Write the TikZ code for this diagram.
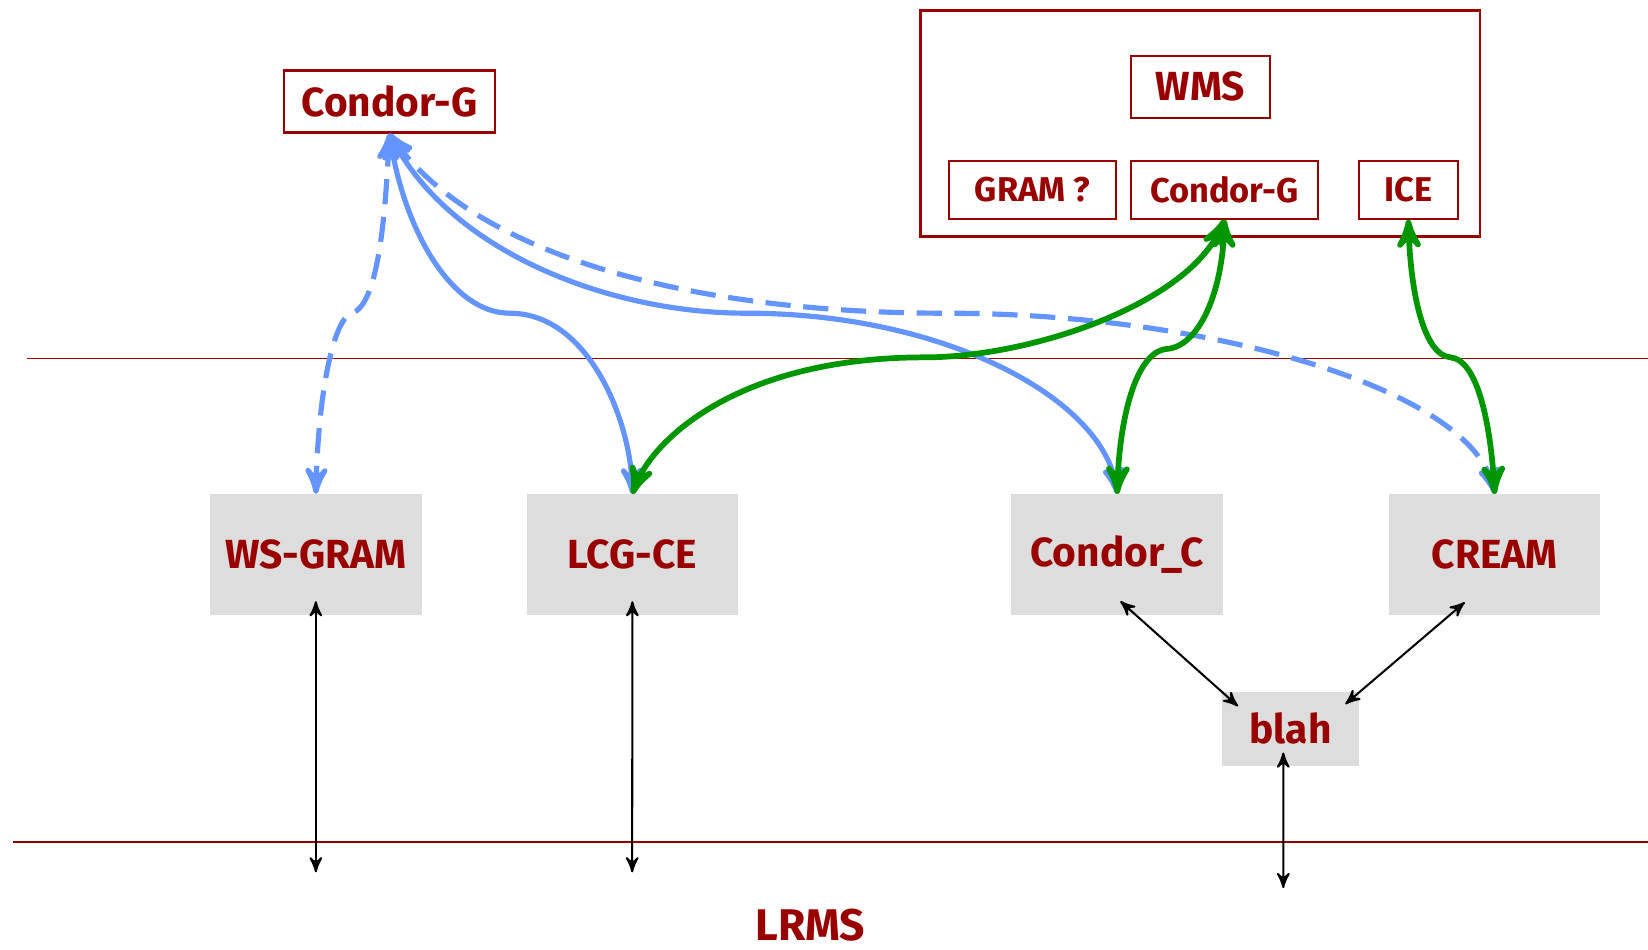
\documentclass[tikz,border=0pt]{standalone}
\usepackage{fontspec}
\setmainfont{Fira Sans}
\usetikzlibrary{arrows,positioning,shapes}
\definecolor{darkred}{RGB}{153,0,0}
\definecolor{lineblue}{RGB}{100,149,255}
\definecolor{linegreen}{RGB}{0,150,0}
\definecolor{boxgray}{RGB}{221,221,221}

\begin{document}
\begin{tikzpicture}[x=0.01cm,y=-0.01cm,>=stealth',
  lbl/.style={text=darkred,font=\bfseries\fontsize{11}{13}\selectfont},
  redbox/.style={lbl,draw=darkred,line width=0.6pt,inner sep=0pt,minimum height=0.59cm},
  smallbox/.style={redbox,font=\bfseries\fontsize{9.3}{11}\selectfont,minimum height=0.55cm},
  graybox/.style={lbl,fill=boxgray,inner sep=0pt,outer sep=0pt,minimum width=2.01cm,minimum height=1.15cm},
  sepline/.style={darkred,line width=0.45pt},
  blueline/.style={lineblue,line width=1.4pt,<->},
  greenline/.style={linegreen,line width=1.55pt,<->},
  blackline/.style={black,line width=0.55pt,<->},
  dashblue/.style={blueline,dash pattern=on 0.24cm off 0.12cm}]
\useasboundingbox (0,0) rectangle (1568,903);

% level lines
\draw[sepline] (26,341) -- (1568,341);
\draw[sepline] (12,801) -- (1568,801);

% clients
\node[redbox,minimum width=2.01cm] (condorg) at (370.5,96.5) {Condor-G};
\node[redbox,minimum width=5.32cm,minimum height=2.15cm] (wmsframe) at (1142,117.5) {};
\node[redbox,minimum width=1.32cm] (wms) at (1142,82.5) {WMS};
\node[smallbox,minimum width=1.59cm] (gram) at (982.5,180.5) {GRAM ?};
\node[smallbox,minimum width=1.78cm] (wmscg) at (1165,180.5) {Condor-G};
\node[smallbox,minimum width=0.94cm] (ice) at (1340,180.5) {ICE};

% computing elements
\node[graybox] (wsgram) at (300.5,527.5) {WS-GRAM};
\node[graybox,right=1cm of wsgram] (lcgce) {LCG-CE};
\node[graybox,right=2.6cm of lcgce] (condorc) {Condor\_C};
\node[graybox,right=1.58cm of condorc] (cream) {CREAM};
\node[graybox,minimum width=1.3cm,minimum height=0.71cm] (blah) at (1228,693.5) {blah};
\node[lbl,inner sep=0pt,font=\bfseries\fontsize{12}{14}\selectfont] (lrms) at (771,880) {LRMS};

\coordinate (wsend) at (300.5,830);
\coordinate (lcgend) at (601.5,830);
\coordinate (blahend) at (1221,845);

% Condor-G submissions
\draw[dashblue] (condorg.south) .. controls (366,220) and (358,290) .. (335,298)
  .. controls (318,302) and (303,370) .. (wsgram.north);
\draw[blueline] (condorg.south) .. controls (385,220) and (430,298) .. (485,298)
  .. controls (560,298) and (600,400) .. (lcgce.north);
\draw[blueline] (condorg.south) .. controls (430,240) and (580,298) .. (710,298)
  .. controls (900,298) and (1050,380) .. (condorc.north);
\draw[dashblue] (condorg.south) .. controls (450,240) and (650,298) .. (900,298)
  .. controls (1150,298) and (1400,370) .. (cream.north);

% WMS submissions
\draw[greenline] (wmscg.south) .. controls (1130,290) and (980,340) .. (880,340)
  .. controls (700,340) and (620,420) .. (lcgce.north);
\draw[greenline] (wmscg.south) .. controls (1163,280) and (1140,330) .. (1110,332)
  .. controls (1080,335) and (1065,400) .. (condorc.north);
\draw[greenline] (ice.south) .. controls (1342,280) and (1355,338) .. (1380,340)
  .. controls (1405,342) and (1418,400) .. (cream.north);

% to the batch system
\draw[blackline] ([yshift=0.13cm]wsgram.south) -- (wsend);
\draw[blackline] ([yshift=0.13cm]lcgce.south) -- (lcgend);
\draw[blackline] ([xshift=-0.07cm,yshift=0.13cm]blah.south) -- (blahend);
\draw[blackline] ([xshift=0.03cm,yshift=0.13cm]condorc.south) -- ([xshift=0.15cm,yshift=-0.14cm]blah.north west);
\draw[blackline] ([xshift=-0.285cm,yshift=0.12cm]cream.south) -- ([xshift=-0.13cm,yshift=-0.12cm]blah.north east);
\end{tikzpicture}
\end{document}
